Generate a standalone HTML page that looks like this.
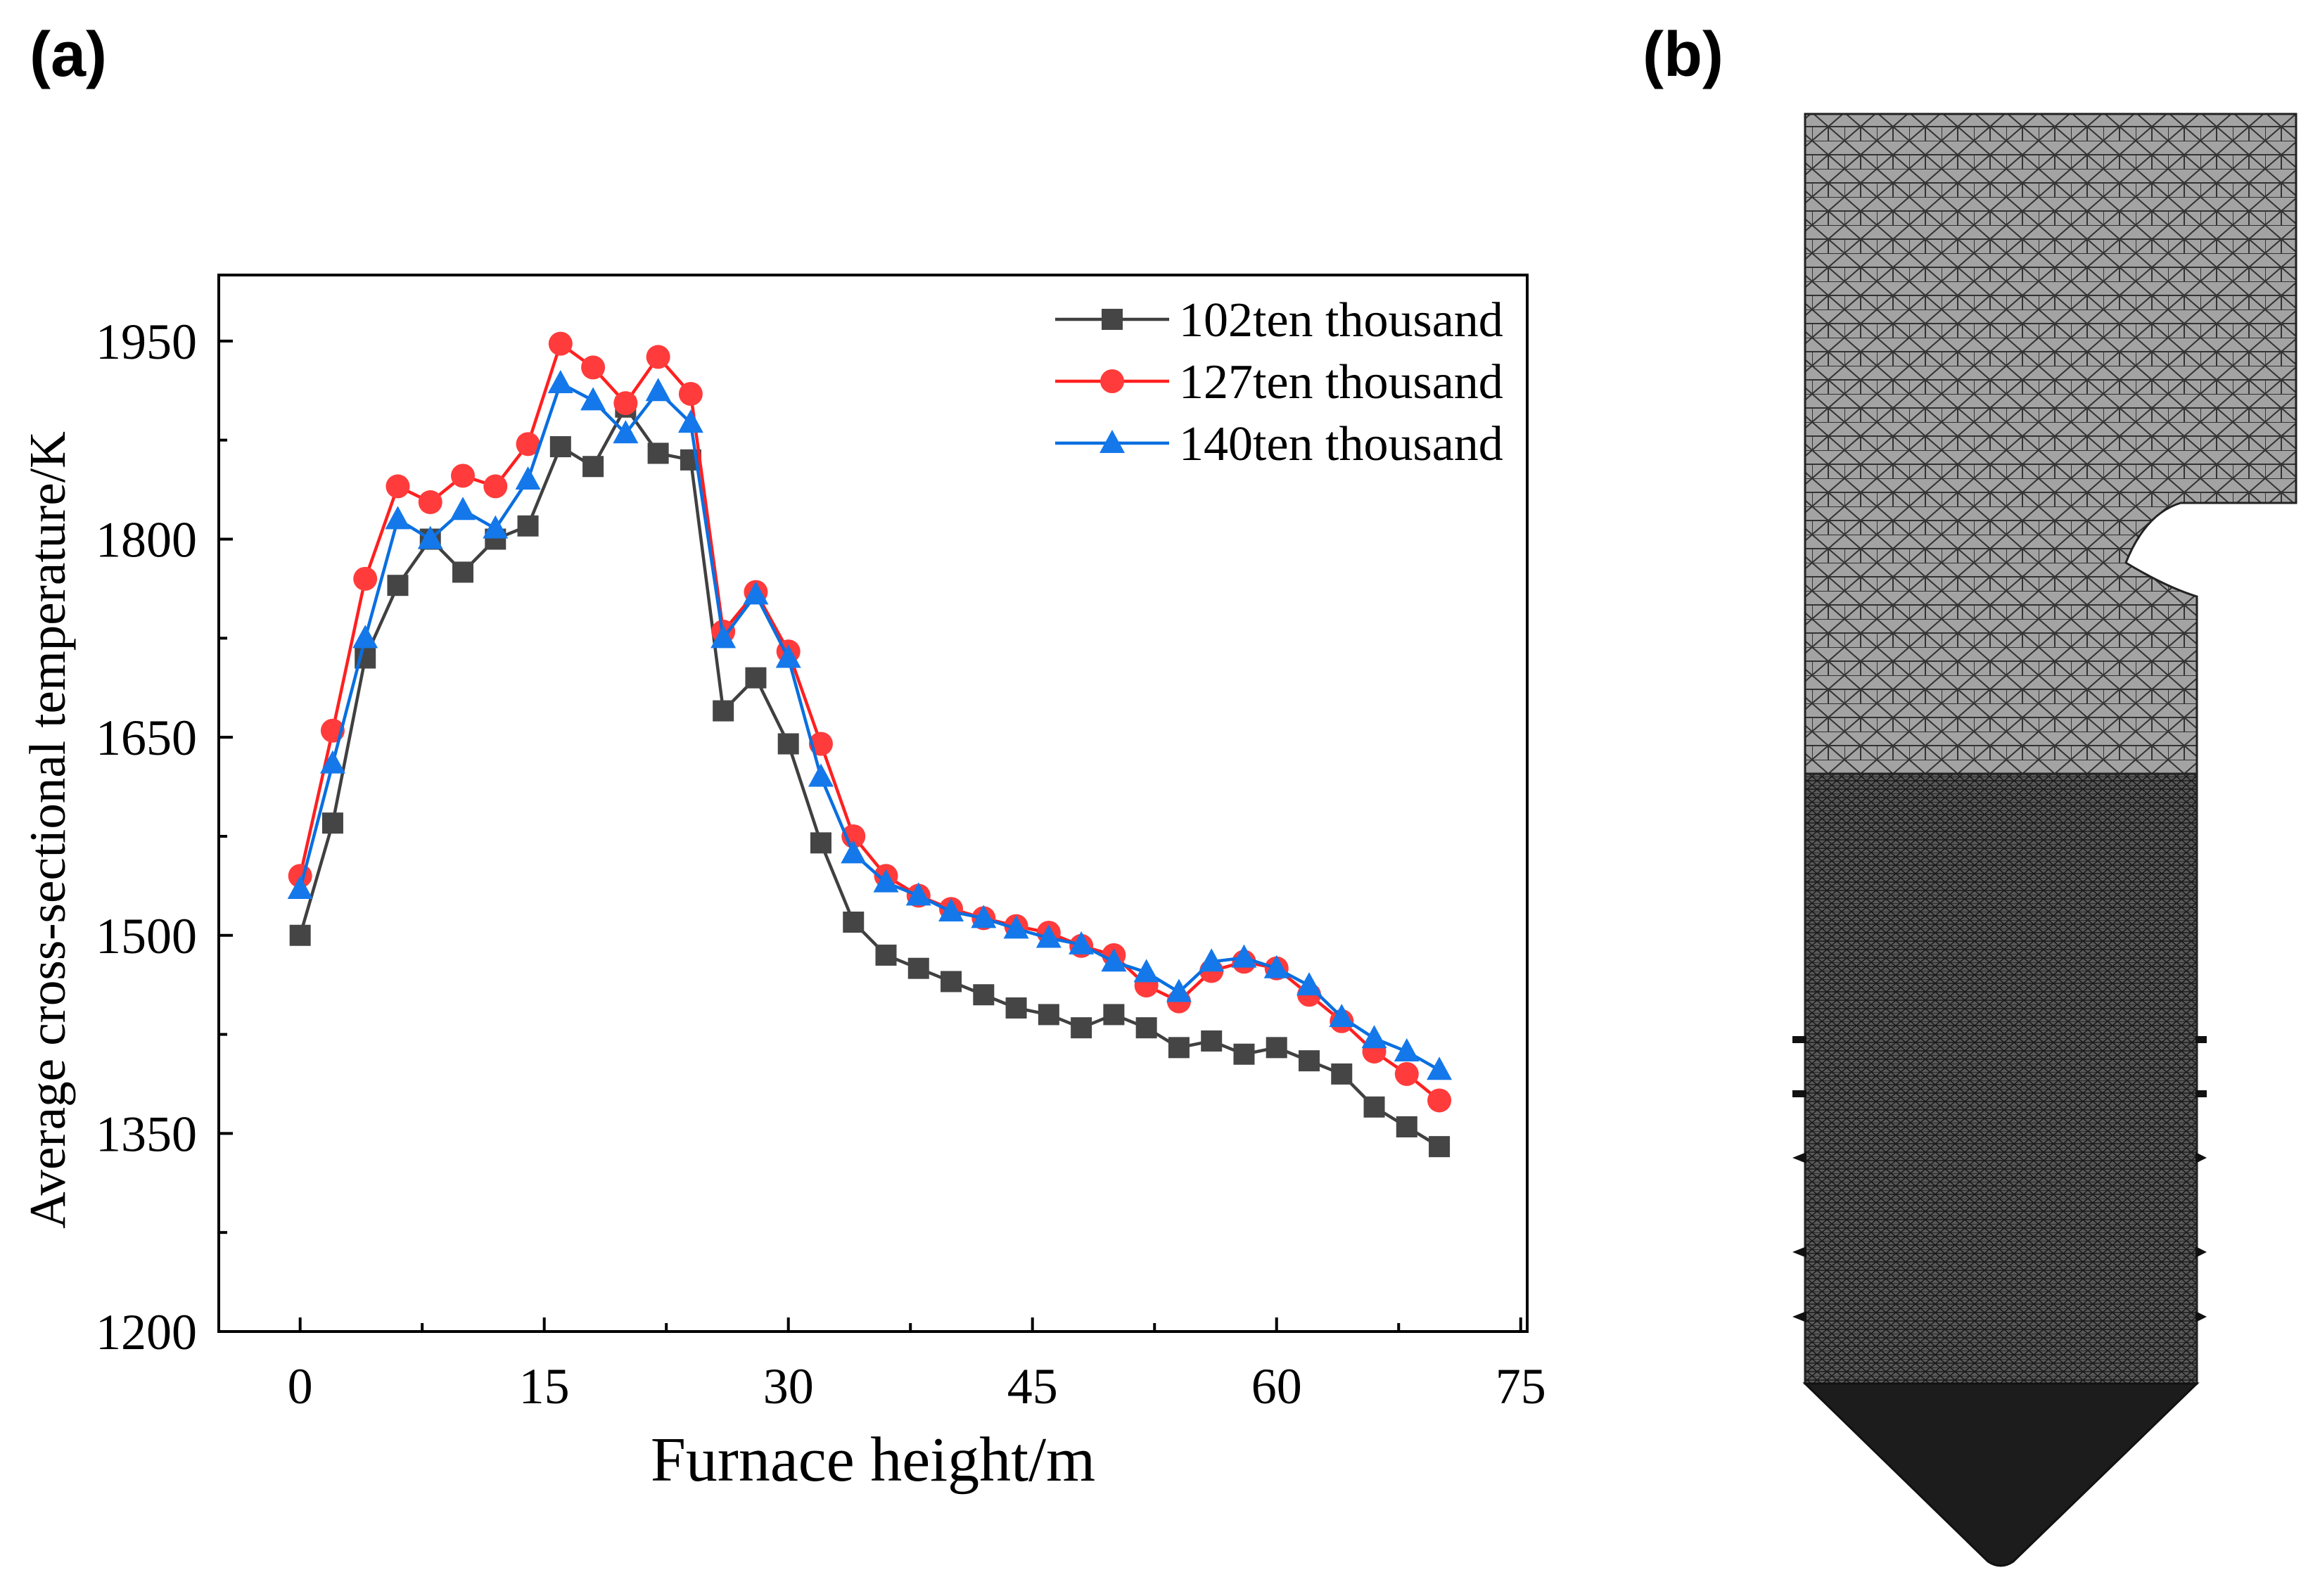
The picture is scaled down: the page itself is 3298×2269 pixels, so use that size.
<!DOCTYPE html>
<html><head><meta charset="utf-8"><style>
html,body{margin:0;padding:0;background:#fff}
svg{display:block}
text{font-family:"Liberation Serif",serif}
</style></head><body>
<svg id="fig" width="3298" height="2269" viewBox="0 0 3298 2269" xmlns="http://www.w3.org/2000/svg">
<defs>
<pattern id="meshA" width="46" height="40" patternUnits="userSpaceOnUse">
<rect width="46" height="40" fill="#a3a3a3"/>
<path d="M0 0L46 0M0 20L46 20M0 0L23 20L46 0M0 40L23 20L46 40M23 20L23 40M0 20L0 40" stroke="#333" stroke-width="2" fill="none"/>
</pattern>
<pattern id="meshB" width="14" height="12" patternUnits="userSpaceOnUse">
<rect width="14" height="12" fill="#5a5a5a"/>
<path d="M0 0L14 0M0 6L14 6M0 0L7 6L14 0M0 12L7 6L14 12" stroke="#1a1a1a" stroke-width="1.6" fill="none"/>
</pattern>
</defs>
<text x="42" y="108" font-weight="bold" font-size="90" style="font-family:'Liberation Sans',sans-serif">(a)</text>
<text x="2335" y="108" font-weight="bold" font-size="90" style="font-family:'Liberation Sans',sans-serif">(b)</text>
<g id="chart"></g>
<g>
<path d="M2566 162 L3264 162 L3264 715 L3100 715 Q3050 730 3022 800 Q3080 835 3123 848 L3123 1100 L2566 1100 Z" fill="url(#meshA)" stroke="#222" stroke-width="3"/>
<path d="M2566 1100 L3123 1100 L3123 1967 L2566 1967 Z" fill="url(#meshB)" stroke="#222" stroke-width="3"/>
<path d="M2566 1967 L3123 1967 L2862 2220 Q2844 2232 2826 2220 Z" fill="#1c1c1c" stroke="#111" stroke-width="3"/>
<g fill="#111">
<rect x="2548" y="1473" width="20" height="10"/><rect x="2548" y="1550" width="20" height="10"/><path d="M2548 1646L2568 1638L2568 1654Z"/><path d="M2548 1780L2568 1772L2568 1788Z"/><path d="M2548 1872L2568 1864L2568 1880Z"/>
<rect x="3121" y="1473" width="16" height="10"/><rect x="3121" y="1550" width="16" height="10"/><path d="M3137 1646L3121 1638L3121 1654Z"/><path d="M3137 1780L3121 1772L3121 1788Z"/><path d="M3137 1872L3121 1864L3121 1880Z"/>
</g>
</g>
</svg>
<script>
const xValues=[0,2,4,6,8,10,12,14,16,18,20,22,24,26,28,30,32,34,36,38,40,42,44,46,48,50,52,54,56,58,60,62,64,66,68,70];
const series102=[1500,1585,1710,1765,1800,1775,1800,1810,1870,1855,1900,1865,1860,1670,1695,1645,1570,1510,1485,1475,1465,1455,1445,1440,1430,1440,1430,1415,1420,1410,1415,1405,1395,1370,1355,1340];
const series127=[1545,1655,1770,1840,1828,1848,1840,1872,1948,1930,1903,1938,1910,1730,1760,1715,1645,1575,1545,1530,1520,1513,1507,1502,1492,1485,1462,1450,1473,1480,1475,1455,1435,1412,1395,1375];
const series140=[1535,1630,1725,1815,1800,1822,1808,1845,1918,1905,1880,1912,1888,1725,1758,1710,1620,1562,1540,1530,1518,1513,1505,1498,1493,1480,1472,1457,1480,1483,1475,1462,1438,1422,1412,1398];
const xTicks=[0,15,30,45,60,75];
const yTicks=[1200,1350,1500,1650,1800,1950];
const seriesNames=["102ten thousand","127ten thousand","140ten thousand"];
const NS="http://www.w3.org/2000/svg";
const L=311,R=2171,T=391,B=1893,XMIN=-5,XMAX=75.4,YMIN=1200,YMAX=2000;
const xs=v=>L+(v-XMIN)/(XMAX-XMIN)*(R-L);
const ys=v=>B-(v-YMIN)/(YMAX-YMIN)*(B-T);
const g=document.getElementById('chart');
function mk(tag,attrs,parent){const e=document.createElementNS(NS,tag);for(const k in attrs)e.setAttribute(k,attrs[k]);(parent||g).appendChild(e);return e;}
let e=mk('rect',{x:L,y:T,width:R-L,height:B-T,fill:'none',stroke:'#000','stroke-width':4});


for(let v=0;v<=75;v+=7.5){const maj=v%15===0;const x=xs(v);
 e=mk('line',{x1:x,x2:x,y1:B,y2:B-(maj?20:12),stroke:'#000','stroke-width':4});
 
 }
xTicks.forEach(v=>{e=mk('text',{x:xs(v),y:1995,'font-size':72,'text-anchor':'middle'});e.textContent=v;
 
 });
for(let v=1200;v<=2000;v+=75){const maj=(v-1200)%150===0;const y=ys(v);
 e=mk('line',{x1:L,x2:L+(maj?20:12),y1:y,y2:y,stroke:'#000','stroke-width':4});
 
 }
yTicks.forEach(v=>{e=mk('text',{x:280,y:ys(v)+25,'font-size':72,'text-anchor':'end'});e.textContent=v;
 
 });
e=mk('text',{x:1241,y:2105,'font-size':90,'text-anchor':'middle'});e.textContent='Furnace height/m';


e=mk('text',{x:0,y:0,'font-size':73,'text-anchor':'middle',transform:'translate(92,1180) rotate(-90)'});e.textContent='Average cross-sectional temperature/K';


const colors=['#404040','#ff2020','#0a6fe0'];
function marker(i,x,y,parent){
 if(i===0)return mk('rect',{x:x-15,y:y-15,width:30,height:30,fill:'#454545'},parent);
 if(i===1)return mk('circle',{cx:x,cy:y,r:17,fill:'#ff3b3b'},parent);
 return mk('path',{d:`M${x} ${y-19}L${x+18} ${y+14}L${x-18} ${y+14}Z`,fill:'#1478ea'},parent);
}
[series102,series127,series140].forEach((s,i)=>{
 const grp=mk('g',{});
 
 
 const pts=s.map((v,j)=>xs(xValues[j])+','+ys(v)).join(' ');
 e=mk('polyline',{points:pts,fill:'none',stroke:colors[i],'stroke-width':4.5},grp);
 
 
 s.forEach((v,j)=>{e=marker(i,xs(xValues[j]),ys(v),grp);
  
  });
});
seriesNames.forEach((n,i)=>{
 const y=454+i*88;
 const lg=mk('g',{});
 
 
 mk('line',{x1:1500,x2:1662,y1:y,y2:y,stroke:colors[i],'stroke-width':4.5},lg);
 marker(i,1581,y,lg);
 const t=mk('text',{x:1676,y:y+24,'font-size':70},lg);t.textContent=n;
});
</script>
</body></html>
